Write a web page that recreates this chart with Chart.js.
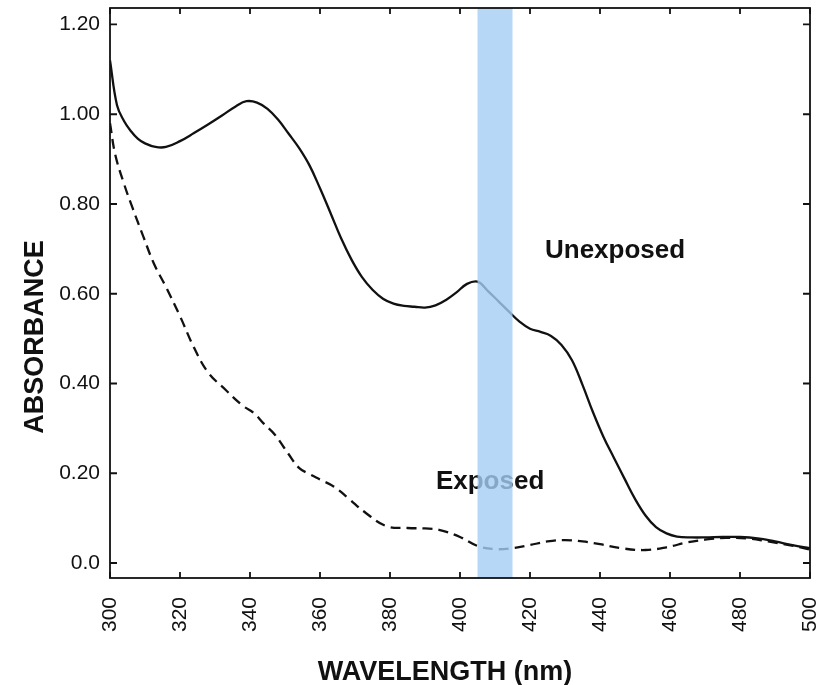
<!DOCTYPE html>
<html>
<head>
<meta charset="utf-8">
<script src="https://cdn.jsdelivr.net/npm/chart.js@4/dist/chart.umd.min.js"></script>
<style>
html,body{margin:0;padding:0;background:#fff;}
canvas{display:block;}
</style>
</head>
<body>
<canvas id="c" width="827" height="685"></canvas>
<script>
// ---- data ----
const unexposedWavelength = [300,302,304,306,308,310,313,316,320,324,328,332,336,339,342,345,348,351,354,357,360,363,366,369,372,375,378,381,384,387,390,393,396,399,402,405,408,411,414,417,420,423,426,429,432,435,438,441,444,447,450,453,456,459,462,466,470,475,480,485,490,495,500];
const unexposedAbsorbance = [1.12,1.02,0.985,0.962,0.945,0.935,0.927,0.927,0.94,0.958,0.977,0.997,1.018,1.029,1.026,1.012,0.988,0.957,0.925,0.886,0.835,0.78,0.724,0.676,0.637,0.609,0.589,0.578,0.573,0.571,0.569,0.574,0.586,0.603,0.622,0.627,0.606,0.583,0.56,0.538,0.522,0.515,0.506,0.486,0.452,0.397,0.336,0.281,0.234,0.188,0.143,0.106,0.08,0.066,0.059,0.057,0.057,0.058,0.058,0.055,0.048,0.04,0.033];

const exposedWavelength = [300,301.5,304,306.5,309.5,312.5,316,320,324,328,333,338,341,344,347,351,354,357,360,364,368,373,379,385,390,394,400,405,410,415,420,425,430,435,440,446,453,459,465,470,476,482,488,494,500];
const exposedAbsorbance = [0.98,0.91,0.845,0.79,0.728,0.668,0.615,0.55,0.48,0.425,0.386,0.35,0.335,0.31,0.287,0.243,0.212,0.198,0.186,0.17,0.145,0.112,0.082,0.078,0.077,0.074,0.058,0.038,0.031,0.033,0.04,0.048,0.051,0.048,0.042,0.033,0.029,0.035,0.046,0.052,0.056,0.055,0.048,0.04,0.03];

const xTickValues = [300,320,340,360,380,400,420,440,460,480,500];
const yTickValues = [0,0.2,0.4,0.6,0.8,1.0,1.2];
const yTickLabels = ["0.0","0.20","0.40","0.60","0.80","1.00","1.20"];

const bandRange = [405,415];
const seriesLabels = ["Unexposed","Exposed"];
const labelPositions = [[444.3,0.680],[408.6,0.165]]; // [wavelength, absorbance] of text anchor

const xTitle = "WAVELENGTH (nm)";
const yTitle = "ABSORBANCE";

function toPoints(xs, ys){ return xs.map((x,i)=>({x:x,y:ys[i]})); }
function zeroPad(s){ s.paddingTop=0; s.paddingBottom=0; s.paddingLeft=0; s.paddingRight=0; }

const decor = {
  id:'decor',
  afterDatasetsDraw(chart){
    const ctx = chart.ctx, a = chart.chartArea;
    const xs = chart.scales.x, ys = chart.scales.y;
    ctx.save();
    // series labels
    ctx.fillStyle = '#111';
    ctx.font = 'bold 26px "Liberation Sans", Arial, sans-serif';
    ctx.textAlign = 'center';
    ctx.textBaseline = 'alphabetic';
    seriesLabels.forEach((t,i)=>{
      ctx.fillText(t, xs.getPixelForValue(labelPositions[i][0]), ys.getPixelForValue(labelPositions[i][1]));
    });
    // highlighted band
    const bx0 = xs.getPixelForValue(bandRange[0]), bx1 = xs.getPixelForValue(bandRange[1]);
    ctx.fillStyle = 'rgba(165,205,245,0.8)';
    ctx.fillRect(bx0, a.top, bx1-bx0, a.bottom-a.top);
    // frame
    ctx.strokeStyle = '#111';
    ctx.lineWidth = 1.8;
    ctx.strokeRect(a.left, a.top, a.right-a.left, a.bottom-a.top);
    // inward ticks
    ctx.beginPath();
    xTickValues.forEach(v=>{
      const px = xs.getPixelForValue(v);
      ctx.moveTo(px, a.bottom); ctx.lineTo(px, a.bottom-6);
      ctx.moveTo(px, a.top); ctx.lineTo(px, a.top+6);
    });
    yTickValues.forEach(v=>{
      const py = ys.getPixelForValue(v);
      ctx.moveTo(a.left, py); ctx.lineTo(a.left+7, py);
      ctx.moveTo(a.right, py); ctx.lineTo(a.right-7, py);
    });
    ctx.stroke();
    // axis titles
    ctx.fillStyle = '#111';
    ctx.font = 'bold 27px "Liberation Sans", Arial, sans-serif';
    ctx.textAlign = 'center';
    ctx.textBaseline = 'alphabetic';
    ctx.fillText(xTitle, 445, 680);
    ctx.translate(43, 337);
    ctx.rotate(-Math.PI/2);
    ctx.fillText(yTitle, 0, 0);
    ctx.restore();
  }
};

new Chart(document.getElementById('c'), {
  type:'scatter',
  data:{
    datasets:[
      {label:seriesLabels[0], data:toPoints(unexposedWavelength, unexposedAbsorbance), showLine:true,
       borderColor:'#111', borderWidth:2.3, pointRadius:0, tension:0.4, fill:false},
      {label:seriesLabels[1], data:toPoints(exposedWavelength, exposedAbsorbance), showLine:true,
       borderColor:'#111', borderWidth:2.3, borderDash:[10,6], pointRadius:0, tension:0.4, fill:false}
    ]
  },
  options:{
    responsive:false, animation:false,
    layout:{padding:{top:8,right:17,left:0,bottom:0}},
    plugins:{legend:{display:false}, tooltip:{enabled:false}},
    scales:{
      x:{type:'linear', min:300, max:500,
         grid:{display:false, drawTicks:false}, border:{display:false},
         afterBuildTicks(s){ s.ticks = xTickValues.map(v=>({value:v})); },
         afterFit(s){ s.height = 107; zeroPad(s); },
         ticks:{autoSkip:false, minRotation:90, maxRotation:90, padding:19, color:'#111',
                font:{family:'"Liberation Sans", Arial, sans-serif', size:21},
                callback:(v)=>String(v)}},
      y:{type:'linear', min:-0.0334, max:1.2367,
         grid:{display:false, drawTicks:false}, border:{display:false},
         afterBuildTicks(s){ s.ticks = yTickValues.map(v=>({value:v})); },
         afterFit(s){ s.width = 110; zeroPad(s); },
         ticks:{padding:10, color:'#111',
                font:{family:'"Liberation Sans", Arial, sans-serif', size:21},
                callback:(v)=>{ const i = yTickValues.findIndex(t=>Math.abs(t-v)<1e-6); return i>=0 ? yTickLabels[i] : ''; }}}
    }
  },
  plugins:[decor]
});
</script>
</body>
</html>
